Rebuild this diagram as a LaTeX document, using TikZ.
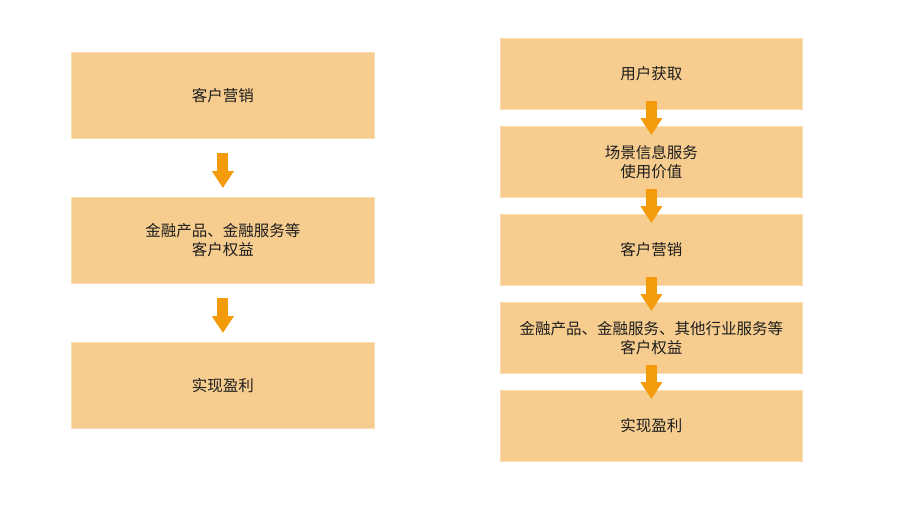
\documentclass[tikz,border=0pt]{standalone}
\usepackage{fontspec}
\newfontfamily\cjk{Noto Sans CJK SC}
\usetikzlibrary{arrows.meta,calc}
\definecolor{boxfill}{HTML}{F6CD8E}
\definecolor{boxline}{HTML}{FADDB2}
\definecolor{arrowc}{HTML}{F49B0B}
\definecolor{txt}{HTML}{1E1E1E}
\begin{document}
\begin{tikzpicture}[x=1pt,y=-1pt,
  stage/.style={anchor=north west, fill=boxfill, draw=boxline, line width=0.8pt,
    inner sep=0pt, align=center, text=txt,
    font=\cjk\fontsize{15.5}{19}\selectfont},
  lstage/.style={stage, minimum width=303pt, minimum height=86pt},
  rstage/.style={stage, minimum width=302pt, minimum height=71pt},
  blk/.style={draw=arrowc, line width=11pt, line cap=butt,
    -{Triangle[width=21pt,length=17pt]}, arrowc}]
\useasboundingbox[fill=white] (0,0) rectangle (914,512);
% left column
\node[lstage] (l1) at (71,52) {客户营销};
\node[lstage] (l2) at (71,197) {金融产品、金融服务等\\客户权益};
\node[lstage] (l3) at (71,342) {实现盈利};
\draw[blk] ($(l1.south)+(0,14)$) -- ($(l2.north)+(0,-9)$);
\draw[blk] ($(l2.south)+(0,14)$) -- ($(l3.north)+(0,-9)$);
% right column
\node[rstage] (r1) at (500,38) {用户获取};
\node[rstage] (r2) at (500,126) {场景信息服务\\使用价值};
\node[rstage] (r3) at (500,214) {客户营销};
\node[rstage] (r4) at (500,302) {金融产品、金融服务、其他行业服务等\\客户权益};
\node[rstage] (r5) at (500,390) {实现盈利};
\draw[blk] ($(r1.south)+(0,-9)$) -- ($(r2.north)+(0,9)$);
\draw[blk] ($(r2.south)+(0,-9)$) -- ($(r3.north)+(0,9)$);
\draw[blk] ($(r3.south)+(0,-9)$) -- ($(r4.north)+(0,9)$);
\draw[blk] ($(r4.south)+(0,-9)$) -- ($(r5.north)+(0,9)$);
\end{tikzpicture}
\end{document}
